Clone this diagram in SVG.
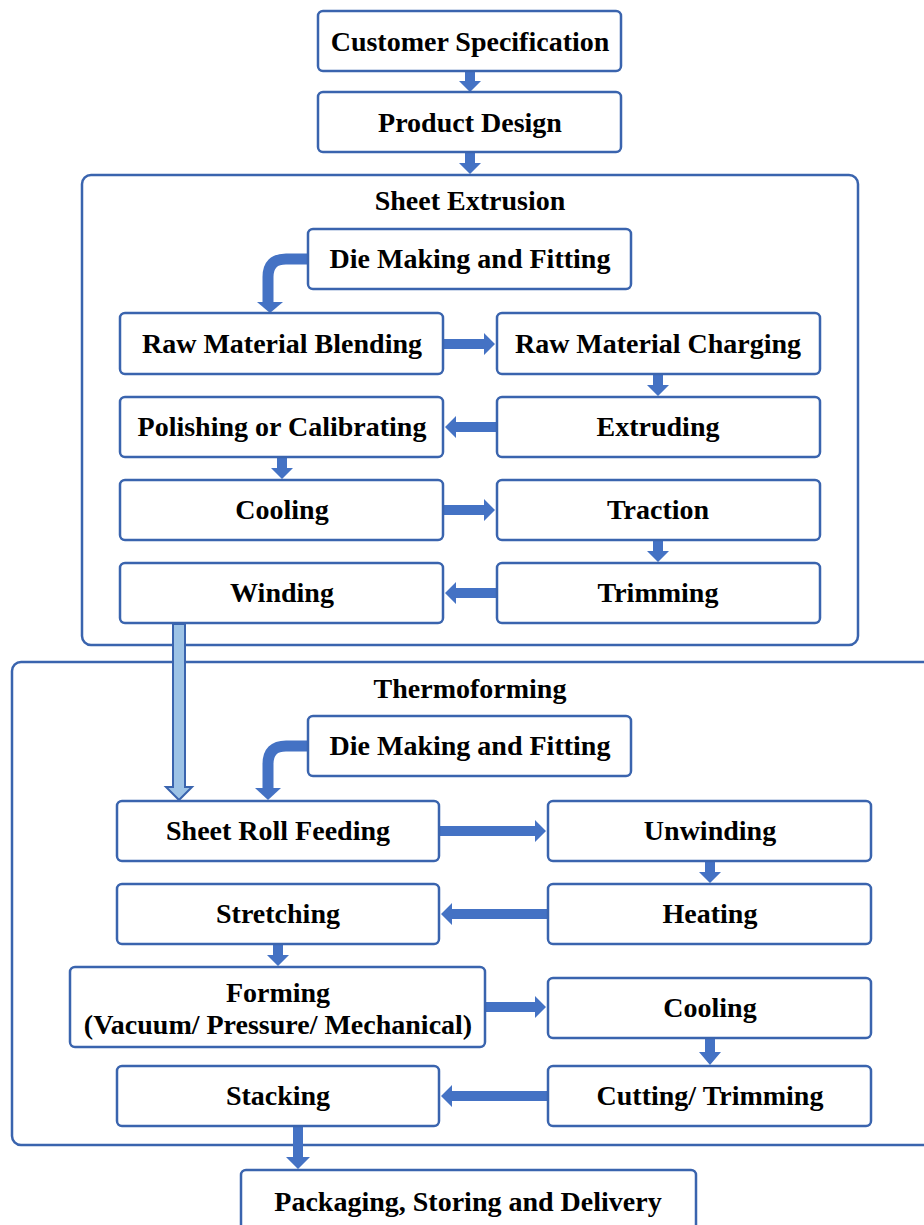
<svg xmlns="http://www.w3.org/2000/svg" width="924" height="1225" viewBox="0 0 924 1225">
<style>
.box{fill:#fff;stroke:#3A64AE;stroke-width:2.5}
.cont{fill:none;stroke:#3A64AE;stroke-width:2.5}
.t{font-family:"Liberation Serif","Times New Roman",serif;font-weight:bold;font-size:28px;fill:#000;text-anchor:middle}
.a{fill:#4472C4;stroke:none}
.cv{fill:none;stroke:#4472C4;stroke-width:11}
</style>
<rect width="924" height="1225" fill="#fff"/>
<g id="sheet-extrusion"><rect class="cont" x="82" y="175" width="776" height="470" rx="9"/><text class="t" x="470" y="210">Sheet Extrusion</text></g>
<g id="thermoforming"><rect class="cont" x="12" y="662" width="930" height="483" rx="9"/><text class="t" x="470" y="698">Thermoforming</text></g>

<g id="connectors">
<polygon class="a" points="465,71 475,71 475,81 481,81 470,92 459,81 465,81"/>
<polygon class="a" points="465,152 475,152 475,163 481,163 470,174 459,163 465,163"/>
<path class="cv" d="M308,259 H286 Q268,259 268,277 V303"/>
<polygon class="a" points="257,302 283,302 270,313"/>
<polygon class="a" points="443,339 484,339 484,333 495,344 484,355 484,349 443,349"/>
<polygon class="a" points="653,374 663,374 663,385 669,385 658,396 647,385 653,385"/>
<polygon class="a" points="497,422 456,422 456,416 445,427 456,438 456,432 497,432"/>
<polygon class="a" points="277,457 287,457 287,468 293,468 282,479 271,468 277,468"/>
<polygon class="a" points="443,505 484,505 484,499 495,510 484,521 484,515 443,515"/>
<polygon class="a" points="653,540 663,540 663,551 669,551 658,562 647,551 653,551"/>
<polygon class="a" points="497,588 456,588 456,582 445,593 456,604 456,598 497,598"/>
<polygon points="173,624 185,624 185,787 192,787 179,800 166,787 173,787" fill="#9DC3E6" stroke="#3A64AE" stroke-width="2"/>
<path class="cv" d="M308,746 H286 Q268,746 268,764 V789"/>
<polygon class="a" points="255,788 281,788 268,800"/>
<polygon class="a" points="439,826 535,826 535,820 546,831 535,842 535,836 439,836"/>
<polygon class="a" points="705,861 715,861 715,872 721,872 710,883 699,872 705,872"/>
<polygon class="a" points="548,909 452,909 452,903 441,914 452,925 452,919 548,919"/>
<polygon class="a" points="273,944 283,944 283,955 289,955 278,966 267,955 273,955"/>
<polygon class="a" points="485,1002 535,1002 535,996 546,1007 535,1018 535,1012 485,1012"/>
<polygon class="a" points="705,1038 715,1038 715,1052 721,1052 710,1065 699,1052 705,1052"/>
<polygon class="a" points="548,1091 452,1091 452,1085 441,1096 452,1107 452,1101 548,1101"/>
<polygon class="a" points="293,1126 303,1126 303,1157 310,1157 298,1169 286,1157 293,1157"/>
</g>

<g id="customer-specification"><rect class="box" x="318" y="11" width="303" height="60" rx="5"/><text class="t" x="470" y="51">Customer Specification</text></g>
<g id="product-design"><rect class="box" x="318" y="92" width="303" height="60" rx="5"/><text class="t" x="470" y="132">Product Design</text></g>
<g id="die-making-1"><rect class="box" x="308" y="229" width="323" height="60" rx="5"/><text class="t" x="470" y="268">Die Making and Fitting</text></g>
<g id="raw-material-blending"><rect class="box" x="120" y="313" width="323" height="61" rx="5"/><text class="t" x="282" y="353">Raw Material Blending</text></g>
<g id="raw-material-charging"><rect class="box" x="497" y="313" width="323" height="61" rx="5"/><text class="t" x="658" y="353">Raw Material Charging</text></g>
<g id="polishing"><rect class="box" x="120" y="397" width="323" height="60" rx="5"/><text class="t" x="282" y="436">Polishing or Calibrating</text></g>
<g id="extruding"><rect class="box" x="497" y="397" width="323" height="60" rx="5"/><text class="t" x="658" y="436">Extruding</text></g>
<g id="cooling-1"><rect class="box" x="120" y="480" width="323" height="60" rx="5"/><text class="t" x="282" y="519">Cooling</text></g>
<g id="traction"><rect class="box" x="497" y="480" width="323" height="60" rx="5"/><text class="t" x="658" y="519">Traction</text></g>
<g id="winding"><rect class="box" x="120" y="563" width="323" height="60" rx="5"/><text class="t" x="282" y="602">Winding</text></g>
<g id="trimming"><rect class="box" x="497" y="563" width="323" height="60" rx="5"/><text class="t" x="658" y="602">Trimming</text></g>

<g id="die-making-2"><rect class="box" x="308" y="716" width="323" height="60" rx="5"/><text class="t" x="470" y="755">Die Making and Fitting</text></g>
<g id="sheet-roll-feeding"><rect class="box" x="117" y="801" width="322" height="60" rx="5"/><text class="t" x="278" y="840">Sheet Roll Feeding</text></g>
<g id="unwinding"><rect class="box" x="548" y="801" width="323" height="60" rx="5"/><text class="t" x="710" y="840">Unwinding</text></g>
<g id="stretching"><rect class="box" x="117" y="884" width="322" height="60" rx="5"/><text class="t" x="278" y="923">Stretching</text></g>
<g id="heating"><rect class="box" x="548" y="884" width="323" height="60" rx="5"/><text class="t" x="710" y="923">Heating</text></g>
<g id="forming"><rect class="box" x="70" y="967" width="415" height="80" rx="5"/><text class="t" x="278" y="1002">Forming</text><text class="t" x="278" y="1034">(Vacuum/ Pressure/ Mechanical)</text></g>
<g id="cooling-2"><rect class="box" x="548" y="978" width="323" height="60" rx="5"/><text class="t" x="710" y="1017">Cooling</text></g>
<g id="stacking"><rect class="box" x="117" y="1066" width="322" height="60" rx="5"/><text class="t" x="278" y="1105">Stacking</text></g>
<g id="cutting-trimming"><rect class="box" x="548" y="1066" width="323" height="60" rx="5"/><text class="t" x="710" y="1105">Cutting/ Trimming</text></g>
<g id="packaging"><rect class="box" x="241" y="1170" width="455" height="80" rx="5"/><text class="t" x="468" y="1211">Packaging, Storing and Delivery</text></g>
</svg>
